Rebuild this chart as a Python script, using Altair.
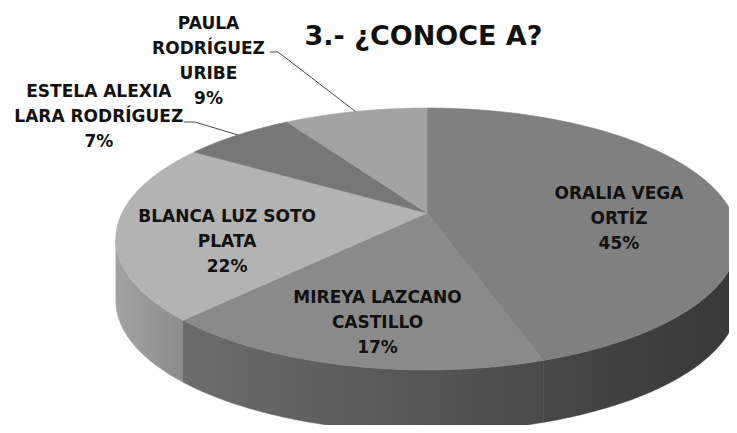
import math
import altair as alt
import pandas as pd

# ---------------- data ----------------
names = [
    "ORALIA VEGA ORTÍZ",
    "MIREYA LAZCANO CASTILLO",
    "BLANCA LUZ SOTO PLATA",
    "ESTELA ALEXIA LARA RODRÍGUEZ",
    "PAULA RODRÍGUEZ URIBE",
]
values = [45, 17, 22, 7, 9]
wrapped_labels = [
    "ORALIA VEGA\nORTÍZ",
    "MIREYA LAZCANO\nCASTILLO",
    "BLANCA LUZ SOTO\nPLATA",
    "ESTELA ALEXIA\nLARA RODRÍGUEZ",
    "PAULA\nRODRÍGUEZ\nURIBE",
]
title_text = "3.- ¿CONOCE A?"

# ---------------- style / geometry ----------------
W, H = 721, 417
CX, CY = 419, 205          # projected centre of the pie top
RX, RY = 305, 125.8        # radii of the projected disc
K = 0.198                  # perspective factor
DEPTH = 62                 # thickness of the 3D pie
N = 90                     # arc resolution
FONT = "DejaVu Sans"
LABEL_SIZE = 17
LINE_H = 25
INSIDE_R = 0.65
INSIDE_DY = 18

TOP_COLORS = ["#808080", "#8a8a8a", "#b3b3b3", "#777777", "#a3a3a3"]
SIDE_GRADIENTS = {
    "ORALIA VEGA ORTÍZ": ("#474747", "#373737"),
    "MIREYA LAZCANO CASTILLO": ("#6c6c6c", "#4a4a4a"),
    "BLANCA LUZ SOTO PLATA": ("#a3a3a3", "#8c8c8c"),
}
# outside labels: (label dx, label dy, elbow dx, elbow dy, end dx, end dy) from slice edge
OUTSIDE = {
    "ESTELA ALEXIA LARA RODRÍGUEZ": (-139, -19, -43, -13, -54, -13),
    "PAULA RODRÍGUEZ URIBE": (-147, -51, -77.5, -59.5, -85.5, -59.5),
}

T_R = math.acos(-K)                 # right silhouette angle
T_L = 2 * math.pi - math.acos(-K)   # left silhouette angle

df = pd.DataFrame({"name": names, "value": values, "wrapped": wrapped_labels})
df["idx"] = range(len(df))
df["outside"] = [n in OUTSIDE for n in names]
for i, col in enumerate(["ldx", "ldy", "e1x", "e1y", "e2x", "e2y"]):
    df[col] = [OUTSIDE.get(n, (0,) * 6)[i] for n in names]


def PX(u, v):
    return f"{CX} + {RX}*({u})/(1 + {K}*({v}))"


def PY(u, v):
    return f"{CY} - {RY}*({v})/(1 + {K}*({v}))"


xs = alt.Scale(domain=[0, W], range=[0, W], nice=False, zero=False)
ys = alt.Scale(domain=[0, H], range=[0, H], nice=False, zero=False)
X = alt.X("px:Q", scale=xs, axis=None)
Y = alt.Y("py:Q", scale=ys, axis=None)
color_scale = alt.Scale(domain=names, range=TOP_COLORS)

base = (
    alt.Chart(df)
    .transform_window(cum="sum(value)", frame=[None, 0], sort=[alt.SortField("idx")])
    .transform_joinaggregate(total="sum(value)")
    .transform_calculate(
        a1="2*PI*datum.cum/datum.total",
        a0="2*PI*(datum.cum - datum.value)/datum.total",
    )
)

layers = []

# ---- visible sides (front half) ----
for name, (c0, c1) in SIDE_GRADIENTS.items():
    grad = alt.LinearGradient(
        gradient="linear",
        stops=[alt.GradientStop(color=c0, offset=0), alt.GradientStop(color=c1, offset=1)],
        x1=0, x2=1, y1=0, y2=0,
    )
    side = (
        base.transform_filter(alt.datum.name == name)
        .transform_calculate(s0=f"max(datum.a0, {T_R})", s1=f"min(datum.a1, {T_L})")
        .transform_filter("datum.s1 > datum.s0")
        .transform_calculate(s=f"sequence(0, {2 * N})")
        .transform_flatten(["s"])
        .transform_calculate(
            j=f"datum.s < {N} ? datum.s : {2 * N - 1} - datum.s",
            off=f"datum.s < {N} ? 0 : {DEPTH}",
        )
        .transform_calculate(t=f"datum.s0 + (datum.s1 - datum.s0) * datum.j / {N - 1}")
        .transform_calculate(u="sin(datum.t)", v="cos(datum.t)")
        .transform_calculate(px=PX("datum.u", "datum.v"), py=PY("datum.u", "datum.v") + " + datum.off")
        .mark_line(filled=True, fill=grad, stroke=grad, strokeWidth=0.5)
        .encode(x=X, y=Y, order=alt.Order("s:Q"))
    )
    layers.append(side)

# ---- top faces ----
top = (
    base.transform_calculate(s=f"sequence(0, {N + 2})")
    .transform_flatten(["s"])
    .transform_calculate(vert=f"datum.s == 0 || datum.s == {N + 1}")
    .transform_calculate(t=f"datum.a0 + (datum.a1 - datum.a0) * (datum.s - 1) / {N - 1}")
    .transform_calculate(u="datum.vert ? 0 : sin(datum.t)", v="datum.vert ? 0 : cos(datum.t)")
    .transform_calculate(px=PX("datum.u", "datum.v"), py=PY("datum.u", "datum.v"))
    .mark_line(filled=True, strokeWidth=0.6)
    .encode(
        x=X, y=Y,
        fill=alt.Fill("name:N", scale=color_scale, legend=None),
        stroke=alt.Stroke("name:N", scale=color_scale, legend=None),
        detail="name:N",
        order=alt.Order("s:Q"),
    )
)
layers.append(top)

# ---- leader lines for outside labels ----
leaders = (
    base.transform_filter("datum.outside")
    .transform_calculate(s="sequence(0, 3)")
    .transform_flatten(["s"])
    .transform_calculate(mid="(datum.a0 + datum.a1)/2")
    .transform_calculate(mu="sin(datum.mid)", mv="cos(datum.mid)")
    .transform_calculate(ex=PX("datum.mu", "datum.mv"), ey=PY("datum.mu", "datum.mv"))
    .transform_calculate(
        px="datum.ex + (datum.s == 0 ? 0 : datum.s == 1 ? datum.e1x : datum.e2x)",
        py="datum.ey + (datum.s == 0 ? 0 : datum.s == 1 ? datum.e1y : datum.e2y)",
    )
    .mark_line(color="#4a4a4a", strokeWidth=1)
    .encode(x=X, y=Y, detail="name:N", order=alt.Order("s:Q"))
)
layers.append(leaders)

# ---- labels ----
labels = (
    base.transform_calculate(mid="(datum.a0 + datum.a1)/2")
    .transform_calculate(mu="sin(datum.mid)", mv="cos(datum.mid)")
    .transform_calculate(
        label="datum.wrapped + '\\n' + format(datum.value/datum.total, '.0%')",
        ix=PX(f"{INSIDE_R}*datum.mu", f"{INSIDE_R}*datum.mv"),
        iy=PY(f"{INSIDE_R}*datum.mu", f"{INSIDE_R}*datum.mv") + f" + {INSIDE_DY}",
        ex=PX("datum.mu", "datum.mv"),
        ey=PY("datum.mu", "datum.mv"),
    )
    .transform_calculate(
        nl="length(split(datum.label, '\\n'))",
        px="datum.outside ? datum.ex + datum.ldx : datum.ix",
        cy="datum.outside ? datum.ey + datum.ldy : datum.iy",
    )
    .transform_calculate(py=f"datum.cy - {0.425 * LABEL_SIZE} - (datum.nl - 1) * {LINE_H} / 2")
    .mark_text(
        font=FONT, fontSize=LABEL_SIZE, fontWeight="bold", color="#111111",
        align="center", baseline="top", lineBreak="\n", lineHeight=LINE_H,
    )
    .encode(x=X, y=Y, text="label:N")
)
layers.append(labels)

# ---- title ----
title = (
    alt.Chart(pd.DataFrame({"title": [title_text]}))
    .mark_text(font=FONT, fontSize=27, fontWeight="bold", color="#111111",
               align="center", baseline="alphabetic")
    .encode(x=alt.value(415.5), y=alt.value(37), text="title:N")
)
layers.append(title)

chart = (
    alt.layer(*layers)
    .properties(width=W, height=H, padding=0, autosize=alt.AutoSizeParams(type="none"),
                background="white")
    .configure_view(strokeWidth=0)
)

chart.save("out.html", embed_options={"renderer": "svg", "actions": False})
